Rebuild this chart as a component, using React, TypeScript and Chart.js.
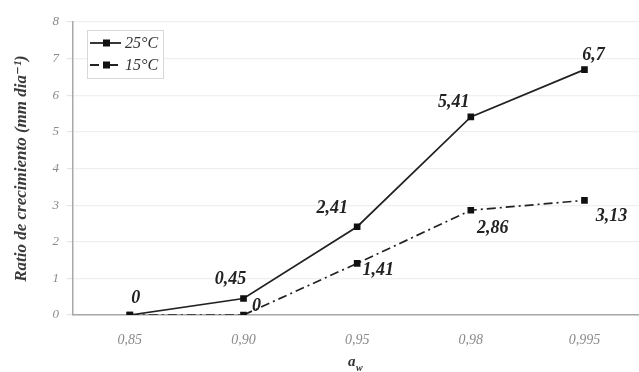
import React, { useEffect, useRef } from "react";
import { Chart, registerables } from "chart.js";

Chart.register(...registerables);

// Water activity levels (a_w) on the x axis
const awLevels = ["0,85", "0,90", "0,95", "0,98", "0,995"];
// Growth rate (mm día^-1) at each temperature
const rate25 = [0, 0.45, 2.41, 5.41, 6.7];
const rate15 = [0, 0, 1.41, 2.86, 3.13];
const seriesNames = ["25°C", "15°C"];
const yTicks = [0, 1, 2, 3, 4, 5, 6, 7, 8];

// Value label offsets (dx, dy) relative to each point, per series
const labelOffsets25 = [[6, -17], [-13, -19], [-25, -18], [-17, -15], [9, -14]];
const labelOffsets15 = [[0, 0], [13, -9], [21, 7], [22, 18], [27, 16]];

const SERIF = "'Liberation Serif', 'DejaVu Serif', serif";
const fmt = (v: number) => String(v).replace(".", ",");

const DASH15 = [9, 4, 2, 4];

const valueLabels = {
  id: "valueLabels",
  afterDatasetsDraw(chart: any) {
    const ctx = chart.ctx;
    ctx.save();
    ctx.font = `italic bold 18px ${SERIF}`;
    ctx.fillStyle = "#222";
    ctx.textAlign = "center";
    ctx.textBaseline = "middle";
    const offs = [labelOffsets25, labelOffsets15];
    chart.data.datasets.forEach((ds: any, di: number) => {
      const meta = chart.getDatasetMeta(di);
      meta.data.forEach((pt: any, i: number) => {
        if (di === 1 && i === 0) return; // shared zero at 0,85 is labelled once
        const [dx, dy] = offs[di][i];
        ctx.fillText(fmt(ds.data[i]), pt.x + dx, pt.y + dy);
      });
    });
    ctx.restore();
  },
};

const legendBox = {
  id: "legendBox",
  afterDraw(chart: any) {
    const ctx = chart.ctx;
    const x0 = chart.chartArea.left + 14;
    const y0 = chart.chartArea.top + 8;
    ctx.save();
    ctx.fillStyle = "#fff";
    ctx.fillRect(x0, y0, 76, 48);
    ctx.strokeStyle = "#d8d8d8";
    ctx.lineWidth = 1;
    ctx.strokeRect(x0 + 0.5, y0 + 0.5, 76, 48);
    const dashes = [[], DASH15];
    seriesNames.forEach((name, i) => {
      const y = y0 + 13 + i * 22;
      ctx.strokeStyle = "#222";
      ctx.lineWidth = 1.8;
      ctx.setLineDash(dashes[i]);
      ctx.beginPath();
      ctx.moveTo(x0 + 3, y);
      ctx.lineTo(x0 + 34, y);
      ctx.stroke();
      ctx.setLineDash([]);
      ctx.fillStyle = "#111";
      ctx.fillRect(x0 + 16, y - 3.5, 7, 7);
      ctx.font = `italic 16px ${SERIF}`;
      ctx.fillStyle = "#333";
      ctx.textAlign = "left";
      ctx.textBaseline = "middle";
      ctx.fillText(name, x0 + 38, y + 1);
    });
    ctx.restore();
  },
};

const xTitle = {
  id: "xTitle",
  afterDraw(chart: any) {
    const ctx = chart.ctx;
    const cx = 355;
    ctx.save();
    ctx.fillStyle = "#333";
    ctx.textBaseline = "alphabetic";
    ctx.textAlign = "left";
    ctx.font = `italic bold 15px ${SERIF}`;
    ctx.fillText("a", cx - 7, 366);
    ctx.font = `italic bold 10px ${SERIF}`;
    ctx.fillText("w", cx + 1, 371);
    ctx.restore();
  },
};

export default function App() {
  const ref = useRef<HTMLCanvasElement>(null);

  useEffect(() => {
    if (!ref.current) return;
    const chart = new Chart(ref.current, {
      type: "line",
      data: {
        labels: awLevels,
        datasets: [
          {
            label: seriesNames[0],
            data: rate25,
            borderColor: "#222",
            borderWidth: 1.7,
            pointStyle: "rect",
            pointRadius: 3.5,
            pointBackgroundColor: "#111",
            pointBorderColor: "#111",
            tension: 0,
          },
          {
            label: seriesNames[1],
            data: rate15,
            borderColor: "#222",
            borderWidth: 1.7,
            borderDash: DASH15,
            pointStyle: "rect",
            pointRadius: 3.5,
            pointBackgroundColor: "#111",
            pointBorderColor: "#111",
            tension: 0,
          },
        ],
      },
      options: {
        responsive: false,
        animation: false,
        layout: { padding: { top: 22, right: 0, left: 0, bottom: 0 } },
        plugins: {
          legend: { display: false },
          tooltip: { enabled: false },
        },
        scales: {
          x: {
            type: "category",
            offset: true,
            grid: { display: false, drawTicks: false },
            border: { display: true, color: "#a8a8a8", width: 1.5 },
            ticks: {
              padding: 17,
              color: "#8a8a8a",
              font: { family: SERIF, style: "italic", size: 14 },
            },
            afterFit(scale: any) {
              scale.height = 57;
            },
          },
          y: {
            min: 0,
            max: 8,
            afterBuildTicks(scale: any) {
              scale.ticks = yTicks.map((v) => ({ value: v }));
            },
            grid: {
              color: "#efefef",
              lineWidth: 1.2,
              tickLength: 6,
              tickColor: "#e4e4e4",
            },
            border: { display: true, color: "#a8a8a8", width: 1.5 },
            ticks: {
              padding: 8,
              color: "#8a8a8a",
              font: { family: SERIF, style: "italic", size: 13 },
            },
            title: {
              display: true,
              text: "Ratio de crecimiento (mm dia⁻¹)",
              color: "#3a3a3a",
              font: { family: SERIF, style: "italic", weight: "bold", size: 17 },
              padding: { top: 11, bottom: 10 },
            },
            afterFit(scale: any) {
              scale.width = 73;
            },
          },
        },
      },
      plugins: [valueLabels, legendBox, xTitle],
    });
    return () => chart.destroy();
  }, []);

  return (
    <div style={{ position: "absolute", left: 0, top: 0, width: 639, height: 372, overflow: "hidden", background: "#fff" }}>
      <canvas ref={ref} width={647} height={372} />
    </div>
  );
}
